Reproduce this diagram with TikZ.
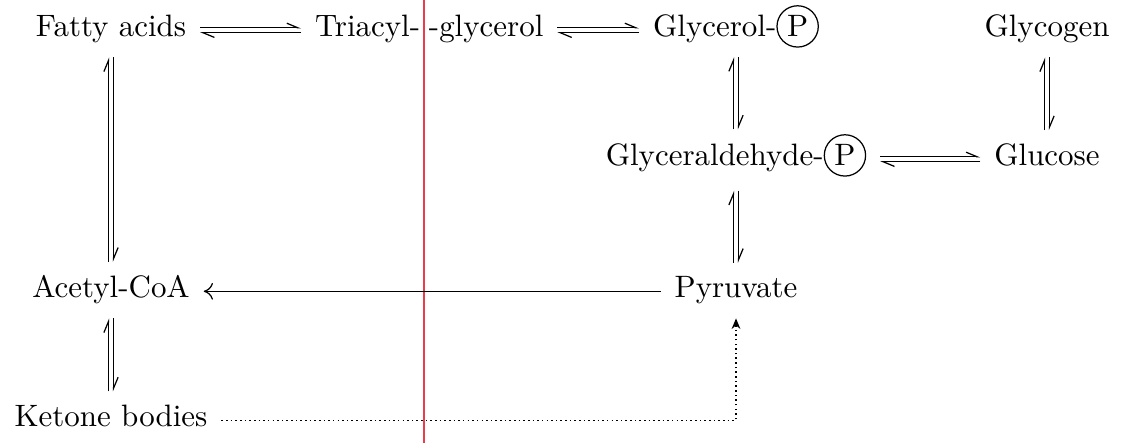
\documentclass[tikz,border=0pt]{standalone}
\usetikzlibrary{arrows.meta}
\definecolor{cutred}{RGB}{236,60,72}
\newcommand{\phos}{\tikz[baseline=(p.base)] \node[draw, circle, inner sep=1.3pt] (p) {P};}

\begin{document}
\begin{tikzpicture}[x=0.011345cm, y=-0.011345cm,
    hp/.style={-{Straight Barb[left,length=3.6pt,width=3pt]}, shorten >=1pt, shorten <=1pt},
    oneway/.style={-{To[length=3pt,width=5.4pt]}, shorten >=1pt, shorten <=1pt},
    dotway/.style={densely dotted, line width=0.5pt, -{Stealth[length=3.4pt,width=2.8pt]}, shorten >=1pt, shorten <=1pt}]
  \useasboundingbox (0,0) rectangle (1123,443);
  \draw
    (111,37) node[anchor=base] (fa){Fatty acids}
    (431,37) node[anchor=base east] (tri){Triacyl-}
    (418,37) node[anchor=base west] (gly){-glycerol}
    (736,37) node[anchor=base] (glyp){Glycerol-\phos}
    (1047,37) node[anchor=base] (glyc){Glycogen}
    (736,166) node[anchor=base] (gald){Glyceraldehyde-\phos}
    (1047,166) node[anchor=base] (glc){Glucose}
    (111,298) node[anchor=base] (acoa){Acetyl-CoA}
    (736,298) node[anchor=base] (pyr){Pyruvate}
    (111,427) node[anchor=base] (ket){Ketone bodies};
  \draw[cutred] (424,0) -- (424,443);
  \begin{scope}[hp]
    \draw ([yshift=0.8pt]fa.mid east) to ([yshift=0.8pt]tri.mid west);
    \draw ([yshift=-0.8pt]tri.mid west) to ([yshift=-0.8pt]fa.mid east);
    \draw ([yshift=0.8pt]gly.mid east) to ([yshift=0.8pt]glyp.mid west);
    \draw ([yshift=-0.8pt]glyp.mid west) to ([yshift=-0.8pt]gly.mid east);
    \draw ([yshift=0.8pt]gald.mid east) to ([yshift=0.8pt]glc.mid west);
    \draw ([yshift=-0.8pt]glc.mid west) to ([yshift=-0.8pt]gald.mid east);
    \draw ([xshift=-0.8pt]acoa.north) to ([xshift=-0.8pt]fa.south);
    \draw ([xshift=0.8pt]fa.south) to ([xshift=0.8pt]acoa.north);
    \draw ([xshift=-0.8pt]ket.north) to ([xshift=-0.8pt]acoa.south);
    \draw ([xshift=0.8pt]acoa.south) to ([xshift=0.8pt]ket.north);
    \draw ([xshift=-0.8pt,yshift=-3pt]gald.north) to ([xshift=-0.8pt,yshift=1.5pt]glyp.south);
    \draw ([xshift=0.8pt,yshift=1.5pt]glyp.south) to ([xshift=0.8pt,yshift=-3pt]gald.north);
    \draw ([xshift=-0.8pt]glc.north) to ([xshift=-0.8pt]glyc.south);
    \draw ([xshift=0.8pt]glyc.south) to ([xshift=0.8pt]glc.north);
    \draw ([xshift=-0.8pt]pyr.north) to ([xshift=-0.8pt]gald.south);
    \draw ([xshift=0.8pt]gald.south) to ([xshift=0.8pt]pyr.north);
  \end{scope}
  \draw[oneway] (pyr.mid west) to (acoa.mid east);
  \draw[dotway] (ket.mid east) -| (pyr.south);
\end{tikzpicture}
\end{document}
